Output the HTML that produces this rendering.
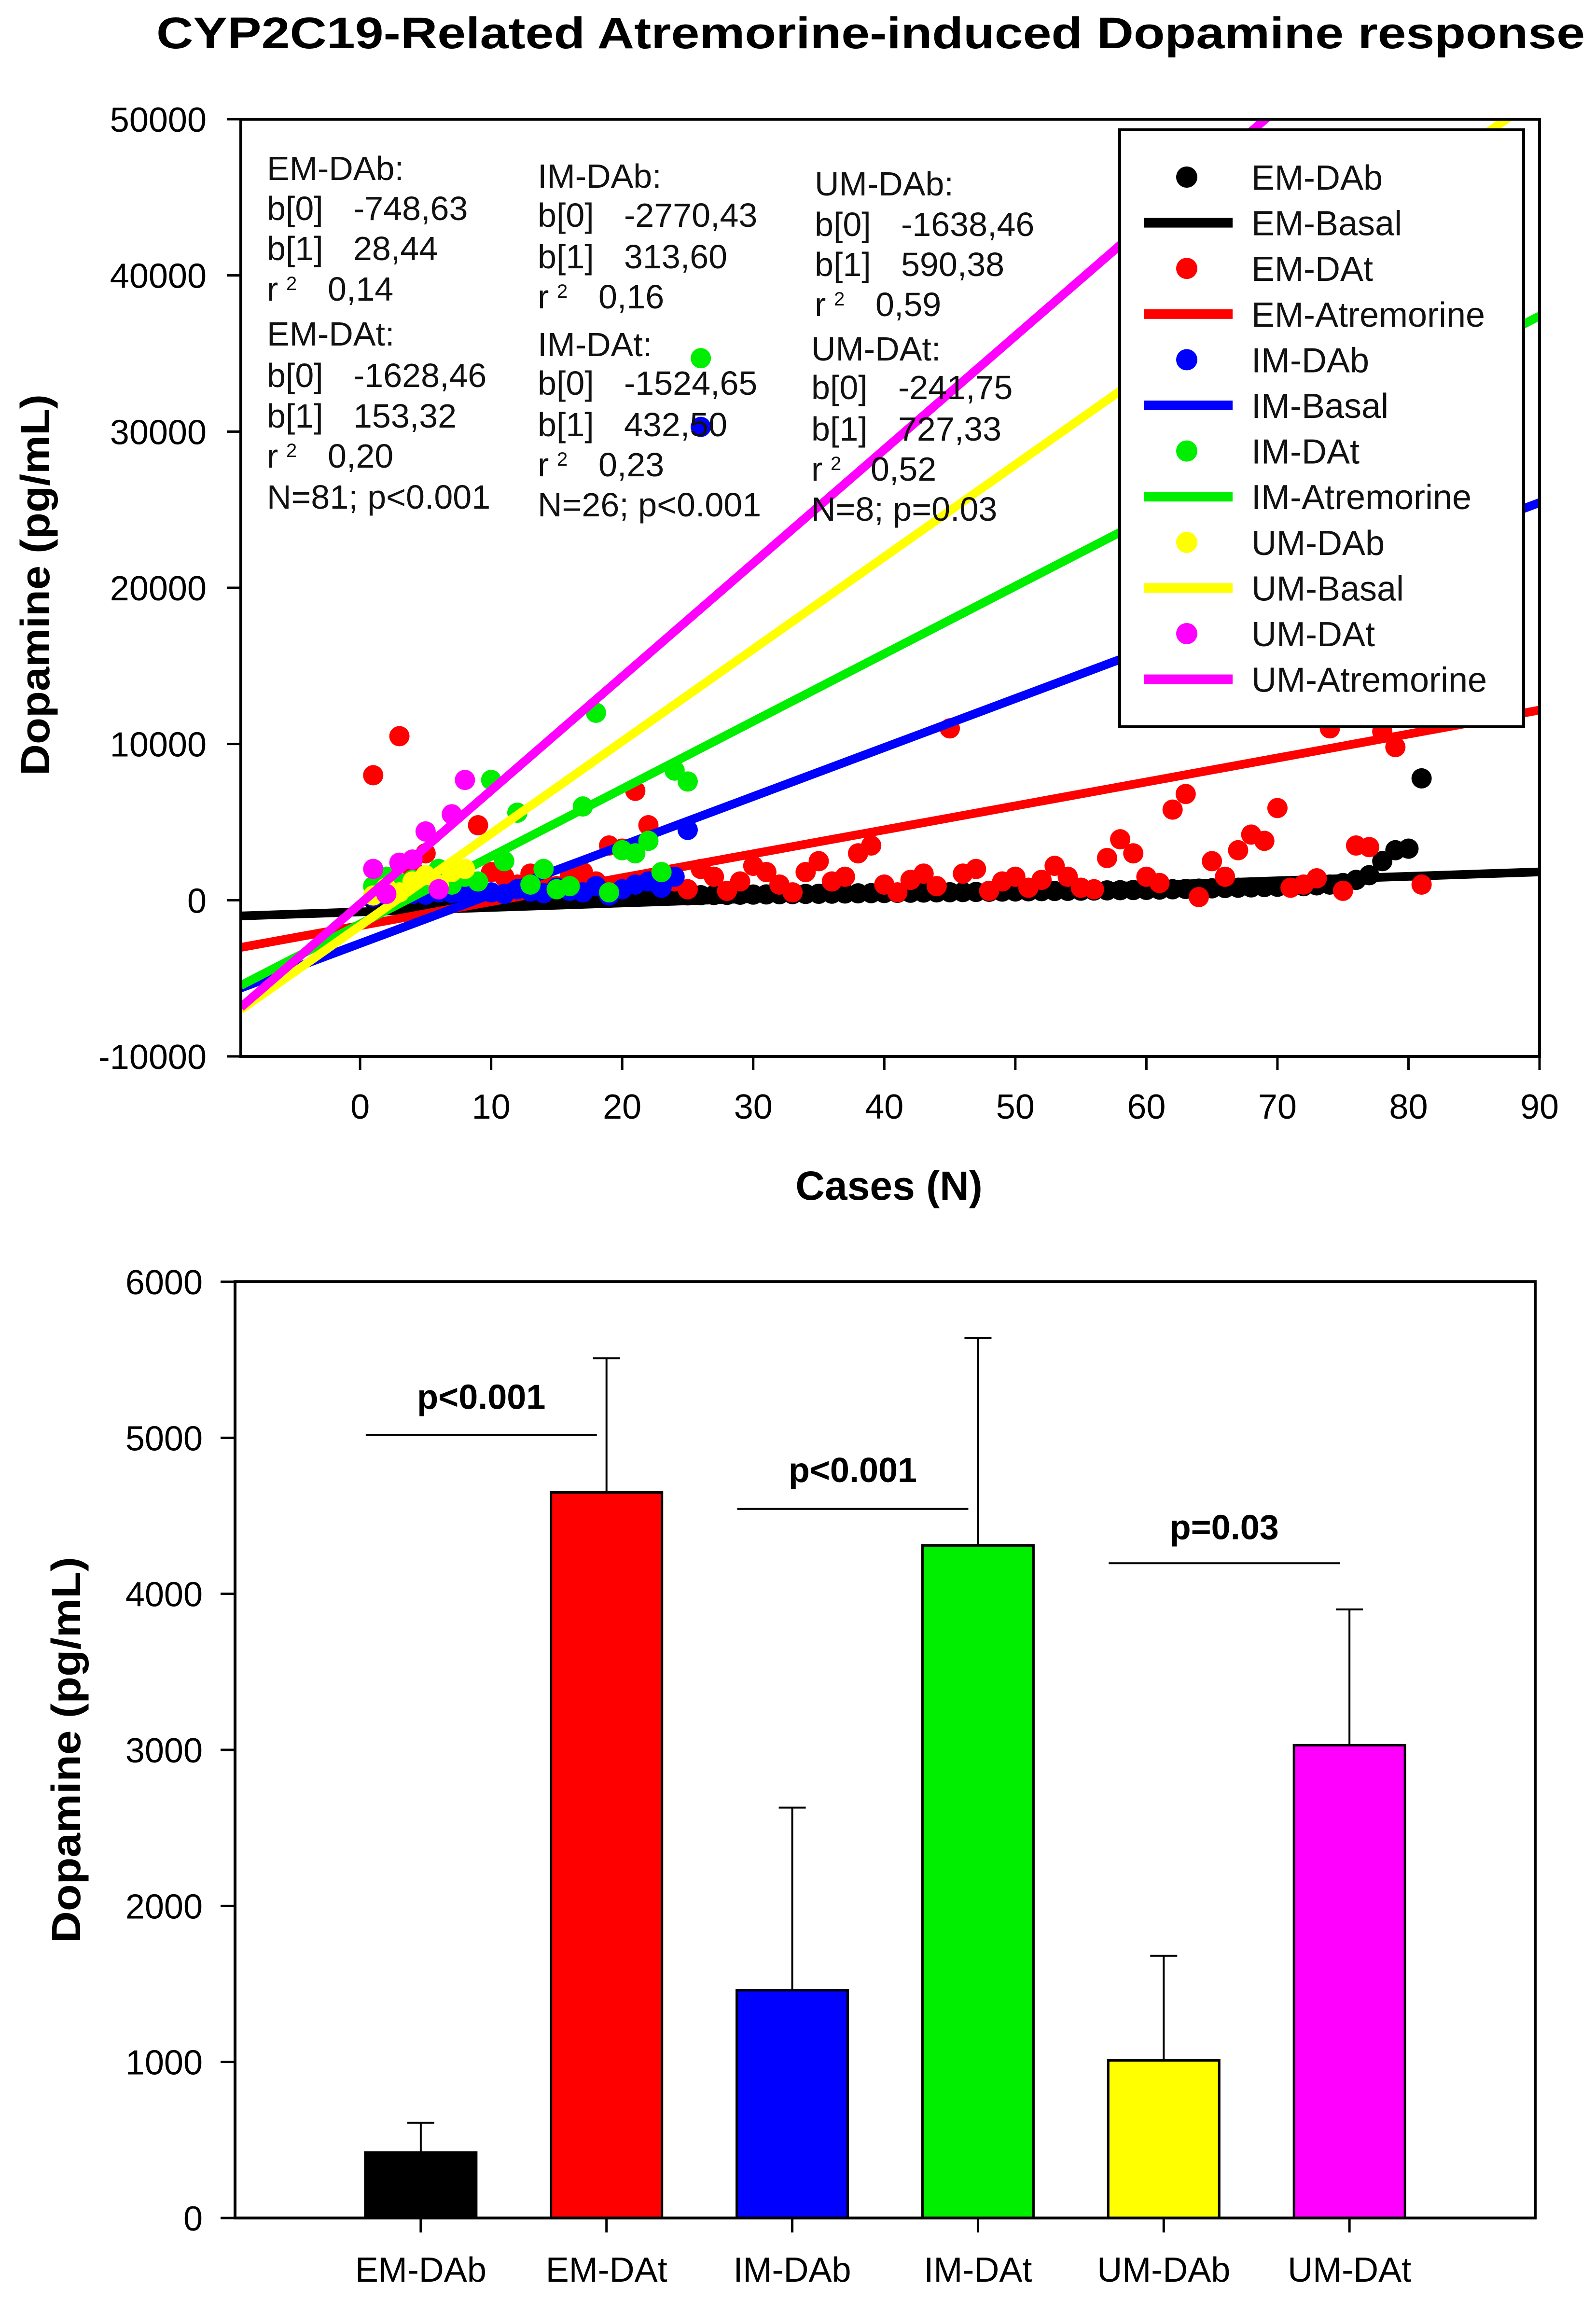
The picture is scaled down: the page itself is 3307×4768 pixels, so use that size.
<!DOCTYPE html>
<html><head><meta charset="utf-8">
<style>
html,body{margin:0;padding:0;background:#fff;}
svg{display:block;font-family:"Liberation Sans",Arial,sans-serif;}
</style></head>
<body>
<svg id="root" width="3307" height="4768" viewBox="0 0 3307 4768" xmlns="http://www.w3.org/2000/svg">
<defs>
<clipPath id="clipTop"><rect x="499" y="247" width="2691" height="1942"/></clipPath>
</defs>
<text x="1804" y="100" text-anchor="middle" font-weight="bold" font-size="92" textLength="2960" lengthAdjust="spacingAndGlyphs">CYP2C19-Related Atremorine-induced Dopamine response</text>
<g id="topChart"></g>
<g id="bottomChart"></g>
</svg>
<script>
// ---------- TOP CHART DATA ----------
const xTicks = [0,10,20,30,40,50,60,70,80,90];
const yTicks = [-10000,0,10000,20000,30000,40000,50000];
const emDAb = [60,80,90,100,110,120,130,140,150,160,170,180,190,200,210,220,230,240,250,260,270,280,290,300,310,320,330,340,350,360,370,380,390,400,410,420,430,440,450,460,470,480,490,500,510,520,530,540,550,560,570,580,590,600,610,620,630,640,650,660,680,700,720,740,760,780,800,820,840,860,880,900,950,1000,1100,1300,1600,2500,3200,3300,7800];
const emDAt = [8000,1500,10500,2000,3000,1000,800,1200,4800,1800,1500,1000,1700,1200,900,1500,1800,1200,3500,3300,7000,4800,1500,1200,700,2000,1500,600,1200,2200,1800,1000,500,1800,2500,1200,1500,3000,3500,1000,500,1300,1700,900,11000,1700,2000,600,1200,1500,800,1300,2200,1500,800,700,2700,3900,3000,1500,1100,5800,6800,200,2500,1500,3200,4200,3800,5900,800,1000,1400,11000,600,3500,3400,10800,9800,12000,1000];
const imDAb = [200,300,250,400,350,500,450,300,600,500,400,700,550,450,800,600,500,900,300,700,1000,1200,800,1500,4500,30300];
const imDAt = [900,1500,1100,1300,1400,2000,1000,1500,1200,7700,2500,5600,1000,2000,700,900,6000,12000,500,3200,3000,3800,1800,8300,7600,34700];
const umDAb = [300,800,500,1200,1600,1000,1800,2000];
const umDAt = [2000,400,2400,2600,4400,700,5500,7700];
const lineLabels = ["EM-Basal","EM-Atremorine","IM-Basal","IM-Atremorine","UM-Basal","UM-Atremorine"];
const lineB0 = [-748.63,-1628.46,-2770.43,-1524.65,-1638.46,-241.75];
const lineB1 = [28.44,153.32,313.60,432.50,590.38,727.33];

// ---------- BOTTOM CHART DATA ----------
const barCats = ["EM-DAb","EM-DAt","IM-DAb","IM-DAt","UM-DAb","UM-DAt"];
const barVals = [420,4650,1460,4310,1010,3030];
const barErr = [190,860,1170,1330,670,870];
const barTicks = [0,1000,2000,3000,4000,5000,6000];

const NS="http://www.w3.org/2000/svg";
function mk(tag, attrs, parent, txt){
  const e=document.createElementNS(NS,tag);
  for(const k in attrs) e.setAttribute(k,attrs[k]);
  if(txt!==undefined) e.textContent=txt;
  parent.appendChild(e); return e;
}
const X0=499,X1=3190,Y0=2189,Y1=247;
const xmin=-9.1,xmax=90,ymin=-10000,ymax=50000;
const sx=v=>X0+(v-xmin)/(xmax-xmin)*(X1-X0);
const sy=v=>Y0-(v-ymin)/(ymax-ymin)*(Y0-Y1);
const topG=document.getElementById('topChart');

const colors=["#000000","#ff0000","#0000ff","#00ee00","#ffff00","#ff00ff"];
const gl=mk('g',{'clip-path':'url(#clipTop)'},topG);



function pts(arr,color,name){
  const g=mk('g',{'clip-path':'url(#clipTop)'},topG);
  
  
  arr.forEach((v,i)=>{
    const c=mk('circle',{cx:sx(i+1),cy:sy(v),r:21,fill:color},g);
    
    
  });
}
function regLine(i){
  const xa=xmin, xb=xmax;
  const l=mk('line',{x1:sx(xa),y1:sy(lineB0[i]+lineB1[i]*xa),x2:sx(xb),y2:sy(lineB0[i]+lineB1[i]*xb),stroke:colors[i],'stroke-width':18},topG);
  l.setAttribute('clip-path','url(#clipTop)');
  
  
}
pts(emDAb,"#000","em-dab-points");
regLine(0);
pts(emDAt,"#ff0000","em-dat-points");
regLine(1);
pts(imDAb,"#0000ff","im-dab-points");
regLine(2);
pts(imDAt,"#00ee00","im-dat-points");
regLine(3);
pts(umDAb,"#ffff00","um-dab-points");
regLine(4);
pts(umDAt,"#ff00ff","um-dat-points");
regLine(5);

const fr=mk('rect',{x:X0,y:Y1,width:X1-X0,height:Y0-Y1,fill:'none',stroke:'#000','stroke-width':6},topG);


xTicks.forEach(t=>{
  mk('line',{x1:sx(t),y1:Y0,x2:sx(t),y2:Y0+28,stroke:'#000','stroke-width':5},topG);
  const tx=mk('text',{x:sx(t),y:2318,'text-anchor':'middle','font-size':72},topG,String(t));
  
  
});
yTicks.forEach(t=>{
  mk('line',{x1:X0-29,y1:sy(t),x2:X0,y2:sy(t),stroke:'#000','stroke-width':5},topG);
  const tx=mk('text',{x:428,y:sy(t)+26,'text-anchor':'end','font-size':72},topG,String(t));
  
  
});
let t1=mk('text',{x:0,y:0,'font-size':84,'font-weight':'bold','text-anchor':'middle',transform:'translate(102,1212) rotate(-90)',textLength:790,lengthAdjust:'spacingAndGlyphs'},topG,'Dopamine (pg/mL)');


let t2=mk('text',{x:1842,y:2486,'font-size':84,'font-weight':'bold','text-anchor':'middle'},topG,'Cases (N)');



function ann(x,vx,rx,ys,lines,name){
  const g=mk('g',{'font-size':70,fill:'#111'},topG);
  
  
  lines.forEach((ln,i)=>{
    const y=ys[i]+25;
    if(typeof ln==='string'){ mk('text',{x:x,y:y},g,ln); }
    else {
      mk('text',{x:x,y:y},g,ln[0]);
      if(ln[0]==='r'){ mk('text',{x:x+40,y:y-22,'font-size':40},g,'2'); mk('text',{x:rx,y:y},g,ln[1]); }
      else mk('text',{x:vx,y:y},g,ln[1]);
    }
  });
}
ann(553,732,679,[348,431,514,598,691,777,861,944,1029],
 ["EM-DAb:",["b[0]","-748,63"],["b[1]","28,44"],["r","0,14"],"EM-DAt:",["b[0]","-1628,46"],["b[1]","153,32"],["r","0,20"],"N=81; p<0.001"],'em-stats');
ann(1114,1293,1240,[364,445,531,614,713,793,879,962,1045],
 ["IM-DAb:",["b[0]","-2770,43"],["b[1]","313,60"],["r","0,16"],"IM-DAt:",["b[0]","-1524,65"],["b[1]","432,50"],["r","0,23"],"N=26; p<0.001"],'im-stats');
ann(1688,1867,1814,[380,464,547,630],
 ["UM-DAb:",["b[0]","-1638,46"],["b[1]","590,38"],["r","0,59"]],'um-dab-stats');
ann(1681,1861,1804,[722,802,888,971,1054],
 ["UM-DAt:",["b[0]","-241,75"],["b[1]","727,33"],["r","0,52"],"N=8; p=0.03"],'um-dat-stats');

const lg=mk('g',{},topG);


mk('rect',{x:2320,y:269,width:837,height:1237,fill:'#fff',stroke:'#000','stroke-width':6},lg);
const legNames=["EM-DAb","EM-Basal","EM-DAt","EM-Atremorine","IM-DAb","IM-Basal","IM-DAt","IM-Atremorine","UM-DAb","UM-Basal","UM-DAt","UM-Atremorine"];
legNames.forEach((n,i)=>{
  const y=367+i*94.6, c=colors[Math.floor(i/2)];
  const e=mk('g',{},lg);
  
  
  if(i%2===0) mk('circle',{cx:2459,cy:y,r:22,fill:c},e);
  else mk('rect',{x:2370,y:y-10,width:184,height:20,fill:c},e);
  mk('text',{x:2593,y:y+26,'font-size':72,fill:'#111'},e,n);
});

// ---------- BOTTOM CHART ----------
const botG=document.getElementById('bottomChart');
const BX0=487,BX1=3181,BY0=4596,BY1=2656;
const by=v=>BY0-v/6000*(BY0-BY1);
const bx=i=>BX0+(i+1)*(BX1-BX0)/7;
const bw=230;
barVals.forEach((v,i)=>{
  const cx=bx(i);
  const el=mk('line',{x1:cx,y1:by(v),x2:cx,y2:by(v+barErr[i]),stroke:'#000','stroke-width':4},botG);
  
  
  mk('line',{x1:cx-28,y1:by(v+barErr[i]),x2:cx+28,y2:by(v+barErr[i]),stroke:'#000','stroke-width':4},botG);
  const r=mk('rect',{x:cx-bw/2,y:by(v),width:bw,height:BY0-by(v),fill:colors[i],stroke:'#000','stroke-width':5},botG);
  
  
  mk('line',{x1:cx,y1:BY0,x2:cx,y2:BY0+30,stroke:'#000','stroke-width':5},botG);
  const tx=mk('text',{x:cx,y:4728,'text-anchor':'middle','font-size':72},botG,barCats[i]);
  
  
});
const bf=mk('rect',{x:BX0,y:BY1,width:BX1-BX0,height:BY0-BY1,fill:'none',stroke:'#000','stroke-width':6},botG);


barTicks.forEach(t=>{
  mk('line',{x1:BX0-30,y1:by(t),x2:BX0,y2:by(t),stroke:'#000','stroke-width':5},botG);
  const tx=mk('text',{x:420,y:by(t)+26,'text-anchor':'end','font-size':72},botG,String(t));
  
  
});
let t3=mk('text',{x:0,y:0,'font-size':84,'font-weight':'bold','text-anchor':'middle',transform:'translate(166,3626) rotate(-90)',textLength:800,lengthAdjust:'spacingAndGlyphs'},botG,'Dopamine (pg/mL)');


const sigY=[5018,4544,4196], sigLab=["p<0.001","p<0.001","p=0.03"], sigLabY=[5272,4803,4437];
sigY.forEach((v,k)=>{
  const a=bx(2*k)-114, b=bx(2*k+1)-20;
  const l=mk('line',{x1:a,y1:by(v),x2:b,y2:by(v),stroke:'#000','stroke-width':4},botG);
  
  
  const tx=mk('text',{x:(a+b)/2,y:by(sigLabY[k])+28,'text-anchor':'middle','font-size':72,'font-weight':'bold'},botG,sigLab[k]);
  
  
});
</script>
</body></html>
